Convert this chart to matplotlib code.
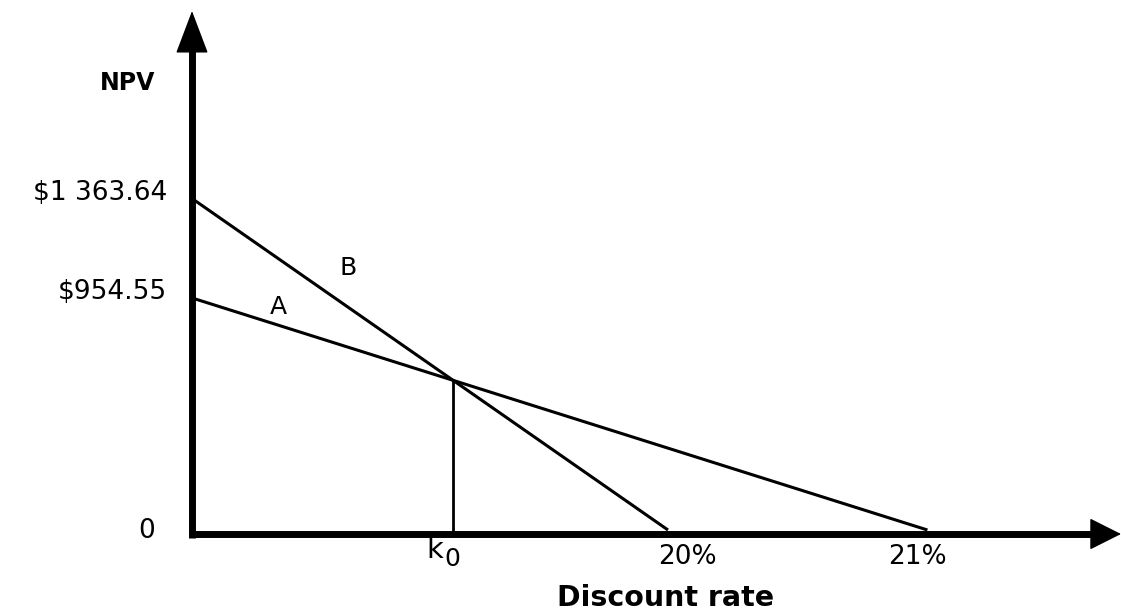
import matplotlib.pyplot as plt
from matplotlib.patches import FancyArrowPatch

# NPV profiles of two projects (the rate axis is drawn not to scale)
projects = ["A", "B"]
npv_at_zero = [954.55, 1363.64]
npv_labels = [r"\$954.55", r"\$1 363.64"]
irr_pos = [30.9, 20.0]          # where each line meets the rate axis
irr_labels = ["21%", "20%"]
irr_label_dx = [-7, 14]         # label nudges, points

W, H = 1121, 614
X0, SX = 192, 23.8      # pixel of the origin, pixels per rate unit
Y0, SY = 530, 0.2431    # pixel of NPV 0, pixels per dollar


def px(x, y):
    # pixel position (from top left) -> data coords, for text placement
    return (x - X0) / SX, (Y0 - y) / SY


fig = plt.figure(figsize=(W / 100, H / 100), dpi=100)
ax = fig.add_axes([0, 0, 1, 1])
ax.set_xlim(-X0 / SX, (W - X0) / SX)
ax.set_ylim(-(H - Y0) / SY, Y0 / SY)
ax.axis("off")

fs = 19
plt.rcParams["font.family"] = "DejaVu Sans"

# axes: thick shafts plus filled arrow heads
yx_axis = px(0, 534)[1]
x_tip = px(1121, 0)[0]
y_tip = px(0, 11)[1]
ax.plot([0, px(1095, 0)[0]], [yx_axis, yx_axis], color="k", lw=5,
        solid_capstyle="butt")
ax.plot([0, 0], [px(0, 538)[1], px(0, 48)[1]], color="k", lw=5,
        solid_capstyle="butt")
ax.add_patch(FancyArrowPatch((px(1080, 0)[0], yx_axis), (x_tip, yx_axis),
                             arrowstyle="-|>,head_length=20.5,head_width=10.3",
                             mutation_scale=1, lw=1, color="k",
                             shrinkA=0, shrinkB=0))
ax.add_patch(FancyArrowPatch((0, px(0, 70)[1]), (0, y_tip),
                             arrowstyle="-|>,head_length=28,head_width=10.6",
                             mutation_scale=1, lw=1, color="k",
                             shrinkA=0, shrinkB=0))

# NPV lines
for name, v0, r in zip(projects, npv_at_zero, irr_pos):
    ax.plot([0, r], [v0, 0], color="k", lw=2.2, solid_capstyle="butt")

# crossover rate k0
a0, b0 = npv_at_zero
ra, rb = irr_pos
k0 = (b0 - a0) / (b0 / rb - a0 / ra)
npv_k0 = b0 * (1 - k0 / rb)
ax.plot([k0, k0], [0, npv_k0], color="k", lw=2.0)

# y labels
for v, lab in zip(npv_at_zero, npv_labels):
    ax.annotate(lab, xy=(0, v), xytext=(-18, 4), textcoords="offset points",
                ha="right", va="center", fontsize=fs)
ax.annotate("0", xy=(0, 0), xytext=(-33, -1), textcoords="offset points",
            ha="center", va="center", fontsize=fs)
ax.text(*px(128, 83), "NPV", ha="center", va="center", fontsize=17,
        fontweight="bold")

# x labels
for r, lab, dx in zip(irr_pos, irr_labels, irr_label_dx):
    ax.annotate(lab, xy=(r, 0), xytext=(dx, -19.5), textcoords="offset points",
                ha="center", va="center", fontsize=fs)
ax.annotate("k", xy=(k0, 0), xytext=(-19, -4), textcoords="offset points",
            ha="left", va="top", fontsize=21)
ax.annotate("0", xy=(k0, 0), xytext=(-6, -12), textcoords="offset points",
            ha="left", va="top", fontsize=18)
ax.text(*px(666, 598), "Discount rate", ha="center", va="center",
        fontsize=20.5, fontweight="bold")

# line names
ax.text(*px(348, 268), "B", ha="center", va="center", fontsize=18)
ax.text(*px(278, 307), "A", ha="center", va="center", fontsize=18)

fig.savefig("out.png", dpi=100)
